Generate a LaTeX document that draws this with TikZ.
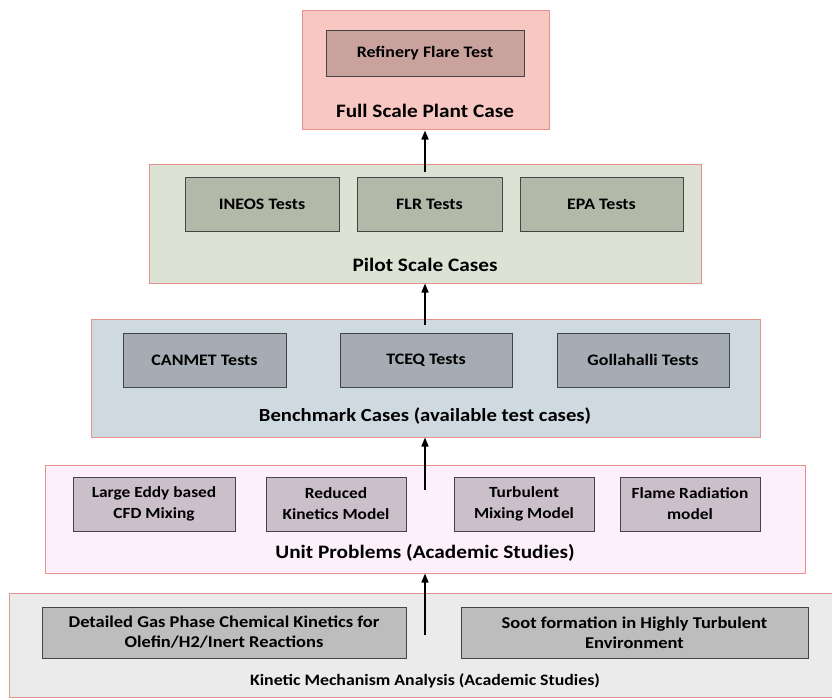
\documentclass[tikz,border=0pt]{standalone}
\usepackage{fontspec}
\setmainfont{Carlito}[FakeStretch=1.12]
\usetikzlibrary{arrows.meta}
\definecolor{fullfill}{HTML}{F9C7C2}
\definecolor{fullin}{HTML}{C9A29E}
\definecolor{pilotfill}{HTML}{DCE3D4}
\definecolor{pilotin}{HTML}{B3B9A9}
\definecolor{benchfill}{HTML}{CED9E0}
\definecolor{benchin}{HTML}{A5ACB3}
\definecolor{unitfill}{HTML}{FDF0FA}
\definecolor{unitin}{HTML}{CBC0CA}
\definecolor{kinfill}{HTML}{EBEBEB}
\definecolor{kinin}{HTML}{BDBDBD}
\definecolor{outerline}{HTML}{E3928C}
\definecolor{innerline}{HTML}{444444}
\tikzset{
  layer/.style={draw=outerline, line width=1pt, inner sep=0pt},
  inbox/.style={draw=innerline, line width=0.9pt, inner sep=0pt, align=center,
    font=\fontsize{16}{21}\selectfont\bfseries},
  unitbox/.style={inbox, fill=unitin, minimum width=140pt, minimum height=54pt,
    font=\fontsize{15.5}{21}\selectfont\bfseries},
  kinbox/.style={inbox, fill=kinin, minimum height=51pt,
    font=\fontsize{16.5}{20}\selectfont\bfseries},
  lbl/.style={inner sep=0pt, font=\fontsize{19}{22}\selectfont\bfseries},
  arr/.style={-{Triangle[length=9pt,width=7pt]}, line width=1.6pt, black},
}
\begin{document}
\begin{tikzpicture}[x=1pt,y=-1pt]
\useasboundingbox (0,0) rectangle (832,698);
% layers
\node[layer, fill=fullfill, minimum width=247pt, minimum height=119pt] (full) at (425.5,70.5) {};
\node[layer, fill=pilotfill, minimum width=552pt, minimum height=119pt] (pilot) at (425,223.5) {};
\node[layer, fill=benchfill, minimum width=669pt, minimum height=118pt] (bench) at (425.5,378) {};
\node[layer, fill=unitfill, minimum width=760pt, minimum height=108pt] (unit) at (425,519) {};
\node[layer, fill=kinfill, minimum width=840pt, minimum height=104pt] (kin) at (429,645) {};
% inner boxes
\node[inbox, fill=fullin, minimum width=198pt, minimum height=46pt] (rft) at (425,53) {Refinery Flare Test};
\node[inbox, fill=pilotin, minimum width=154pt, minimum height=54pt] (ineos) at (262,204) {INEOS Tests};
\node[inbox, fill=pilotin, minimum width=145pt, minimum height=54pt] (flr) at (429.5,204) {FLR Tests};
\node[inbox, fill=pilotin, minimum width=163pt, minimum height=54pt] (epa) at (601.5,204) {EPA Tests};
\node[inbox, fill=benchin, minimum width=163pt, minimum height=54pt] (canmet) at (204.5,360) {CANMET Tests};
\node[inbox, fill=benchin, minimum width=172pt, minimum height=54pt] (tceq) at (426,360) {TCEQ Tests};
\node[inbox, fill=benchin, minimum width=172pt, minimum height=54pt] (goll) at (643,360) {Gollahalli Tests};
\node[unitbox, minimum width=162pt] (les) at (154,504) {Large Eddy based\\CFD Mixing};
\node[unitbox] (rkm) at (336,504) {Reduced\\Kinetics Model};
\node[unitbox] (tmm) at (524,504) {Turbulent\\Mixing Model};
\node[unitbox] (frm) at (690,504) {Flame Radiation\\model};
\node[kinbox, minimum width=364pt] (dgp) at (224,632.5) {Detailed Gas Phase Chemical Kinetics for\\Olefin/H2/Inert Reactions};
\node[kinbox, minimum width=347pt] (soot) at (634.5,632.5) {Soot formation in Highly Turbulent\\Environment};
% labels
\node[lbl] (lfull) at (425,111) {Full Scale Plant Case};
\node[lbl] (lpilot) at (425,265) {Pilot Scale Cases};
\node[lbl, font=\fontsize{18.5}{22}\selectfont\bfseries] (lbench) at (425,416) {Benchmark Cases (available test cases)};
\node[lbl] (lunit) at (425,553) {Unit Problems (Academic Studies)};
\node[lbl, font=\fontsize{15.9}{20}\selectfont\bfseries] (lkin) at (425,681) {Kinetic Mechanism Analysis (Academic Studies)};
% arrows
\coordinate (s1) at (425,172);
\coordinate (s2) at (425,325);
\coordinate (s3) at (425,490);
\coordinate (s4) at (425,635);
\draw[arr] (s1) -- (full.south -| s1);
\draw[arr] (s2) -- (pilot.south -| s2);
\draw[arr] (s3) -- (bench.south -| s3);
\draw[arr] (s4) -- (unit.south -| s4);
\end{tikzpicture}
\end{document}
